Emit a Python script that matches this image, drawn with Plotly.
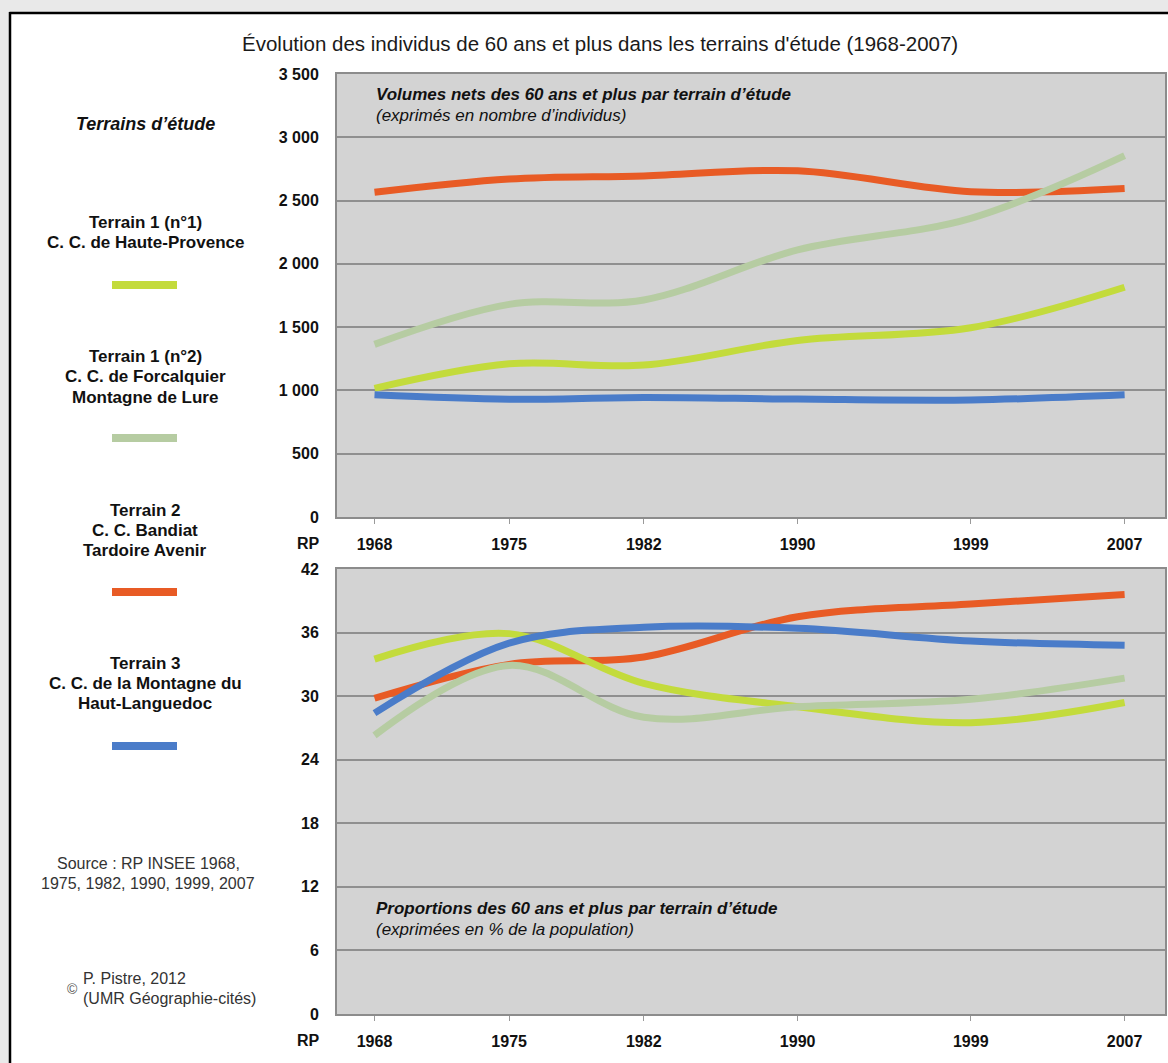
import plotly.graph_objects as go
from plotly.subplots import make_subplots

W, H = 1168, 1063

# ---- data ----
years = [1968, 1975, 1982, 1990, 1999, 2007]
year_labels = ["1968", "1975", "1982", "1990", "1999", "2007"]

series_names = [
    "Terrain 2 - C. C. Bandiat Tardoire Avenir",
    "Terrain 1 (n°1) - C. C. de Haute-Provence",
    "Terrain 1 (n°2) - C. C. de Forcalquier Montagne de Lure",
    "Terrain 3 - C. C. de la Montagne du Haut-Languedoc",
]
series_colors = ["#e85b25", "#c3db3c", "#b6cca2", "#4a7cc9"]

vol_t2 = [2565, 2670, 2695, 2735, 2570, 2595]
vol_t1n1 = [1016, 1210, 1200, 1395, 1495, 1815]
vol_t1n2 = [1364, 1680, 1715, 2110, 2360, 2855]
vol_t3 = [965, 930, 945, 932, 925, 965]

pct_t2 = [29.8, 33.0, 33.7, 37.5, 38.7, 39.6]
pct_t1n1 = [33.5, 35.9, 31.2, 29.0, 27.5, 29.4]
pct_t1n2 = [26.3, 32.9, 28.0, 29.0, 29.7, 31.7]
pct_t3 = [28.4, 35.0, 36.5, 36.4, 35.2, 34.8]

vol_ticks = [0, 500, 1000, 1500, 2000, 2500, 3000, 3500]
vol_ticktext = ["0", "500", "1 000", "1 500", "2 000", "2 500", "3 000", "3 500"]
pct_ticks = [0, 6, 12, 18, 24, 30, 36, 42]
pct_ticktext = ["0", "6", "12", "18", "24", "30", "36", "42"]

volumes = [vol_t2, vol_t1n1, vol_t1n2, vol_t3]
pcts = [pct_t2, pct_t1n1, pct_t1n2, pct_t3]


def px(x):
    return x / W


def py(y):
    return 1 - y / H


FONT = "Liberation Sans, Arial, sans-serif"

fig = make_subplots(rows=2, cols=1)

for name, col, v, p in zip(series_names, series_colors, volumes, pcts):
    fig.add_trace(go.Scatter(x=years, y=v, mode="lines", name=name,
                             line=dict(color=col, width=7, shape="spline", smoothing=1),
                             showlegend=False), row=1, col=1)
    fig.add_trace(go.Scatter(x=years, y=p, mode="lines", name=name,
                             line=dict(color=col, width=7, shape="spline", smoothing=1),
                             showlegend=False), row=2, col=1)

xcommon = dict(range=[1966.05, 2009.1], tickvals=years, ticktext=year_labels,
               ticks="outside", ticklen=5, tickwidth=1, tickcolor="#9a9a9a",
               tickfont=dict(family=FONT, size=16, color="#111", weight="bold"),
               showgrid=False, zeroline=False, showline=True, mirror=True,
               linecolor="#8c8c8c", linewidth=2, ticklabelstandoff=7, automargin=False)
fig.update_xaxes(**xcommon, domain=[px(337), px(1165)], row=1, col=1)
fig.update_xaxes(**xcommon, domain=[px(337), px(1165)], row=2, col=1)

ycommon = dict(ticks="", showgrid=True, gridcolor="#8f8f8f", gridwidth=1.5,
               zeroline=False, showline=True, mirror=True, linecolor="#8c8c8c",
               linewidth=2, tickfont=dict(family=FONT, size=16, color="#111", weight="bold"),
               ticklabelstandoff=13, automargin=False)
fig.update_yaxes(**ycommon, range=[0, 3500], tickvals=vol_ticks, ticktext=vol_ticktext,
                 domain=[py(517), py(74)], row=1, col=1)
fig.update_yaxes(**ycommon, range=[0, 42], tickvals=pct_ticks, ticktext=pct_ticktext,
                 domain=[py(1014), py(569)], row=2, col=1)

shapes = []
# outer frame (grey strips + black border)
shapes.append(dict(type="rect", xref="paper", yref="paper", x0=0, x1=1.0, y0=py(12), y1=1.0,
                   fillcolor="#e9e9e9", line=dict(width=0), layer="below"))
shapes.append(dict(type="rect", xref="paper", yref="paper", x0=0, x1=px(9.5), y0=0, y1=1.0,
                   fillcolor="#e9e9e9", line=dict(width=0), layer="below"))
shapes.append(dict(type="line", xref="paper", yref="paper", x0=px(9.5), x1=1.0, y0=py(13), y1=py(13),
                   line=dict(color="#000", width=2.5)))
shapes.append(dict(type="line", xref="paper", yref="paper", x0=px(10), x1=px(10), y0=py(12), y1=0,
                   line=dict(color="#000", width=2.5)))

# legend swatches
legend_y = [592, 285, 438, 746]
for col, ly in zip(series_colors, legend_y):
    shapes.append(dict(type="line", xref="paper", yref="paper", x0=px(112), x1=px(177),
                       y0=py(ly), y1=py(ly), line=dict(color=col, width=8)))

annotations = []


def ann(text, x, y, size=17, xanchor="center", align="center", color="#111"):
    annotations.append(dict(text=text, x=px(x), y=py(y), xref="paper", yref="paper",
                            xanchor=xanchor, yanchor="middle", align=align, showarrow=False,
                            font=dict(family=FONT, size=size, color=color)))


ann("Évolution des individus de 60 ans et plus dans les terrains d'étude (1968-2007)",
    600, 44, size=20.5, color="#1a1a1a")
ann("<b><i>Terrains d’étude</i></b>", 145, 124, size=18)
left_lines = [
    ("Terrain 1 (n°1)", 222), ("C. C. de Haute-Provence", 242),
    ("Terrain 1 (n°2)", 356), ("C. C. de Forcalquier", 376), ("Montagne de Lure", 397),
    ("Terrain 2", 510), ("C. C. Bandiat", 530), ("Tardoire Avenir", 550),
    ("Terrain 3", 663), ("C. C. de la Montagne du", 683), ("Haut-Languedoc", 703),
]
for t, y in left_lines:
    ann("<b>" + t + "</b>", 145, y, size=17)
ann("Source : RP INSEE 1968,", 148, 863, size=16, color="#333")
ann("1975, 1982, 1990, 1999, 2007", 148, 883, size=16, color="#333")
ann("©", 72, 989, size=14, color="#555")
ann("P. Pistre, 2012", 81, 978, size=16, xanchor="left", align="left", color="#333")
ann("(UMR Géographie-cités)", 81, 998, size=16, xanchor="left", align="left", color="#333")
ann("<b>RP</b>", 308, 543, size=16)
ann("<b>RP</b>", 308, 1040, size=16)
ann("<b><i>Volumes nets des 60 ans et plus par terrain d’étude</i></b>", 374, 95, size=17,
    xanchor="left", align="left")
ann("<i>(exprimés en nombre d’individus)</i>", 374, 115, size=17, xanchor="left", align="left")
ann("<b><i>Proportions des 60 ans et plus par terrain d’étude</i></b>", 374, 908, size=17,
    xanchor="left", align="left")
ann("<i>(exprimées en % de la population)</i>", 374, 929, size=17, xanchor="left", align="left")

fig.update_layout(width=W, height=H, margin=dict(l=0, r=0, t=0, b=0, autoexpand=False),
                  autosize=False,
                  paper_bgcolor="white", plot_bgcolor="#d3d3d3",
                  shapes=shapes, annotations=annotations, showlegend=False,
                  font=dict(family=FONT))

fig.write_html("out.html", config={"displayModeBar": False},
               post_script="document.body.style.margin='0';document.body.style.overflow='hidden';")
